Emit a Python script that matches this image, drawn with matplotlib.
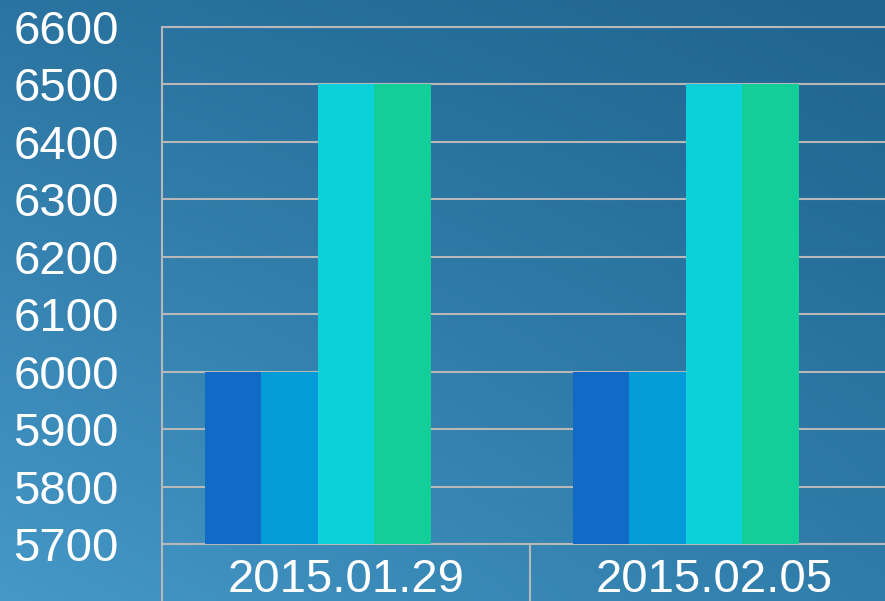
import numpy as np
import matplotlib
matplotlib.use("Agg")
import matplotlib.pyplot as plt
from matplotlib.colors import to_rgb

# data
categories = ["2015.01.29", "2015.02.05"]
series_a = [6000, 6000]
series_b = [6000, 6000]
series_c = [6500, 6500]
series_d = [6500, 6500]
y_ticks = [5700, 5800, 5900, 6000, 6100, 6200, 6300, 6400, 6500, 6600]

colors = ["#116AC5", "#029CD9", "#0CD0DA", "#12CF99"]
plt.rcParams['font.family'] = ['Liberation Sans', 'DejaVu Sans']

W, H = 885, 601
fig = plt.figure(figsize=(W / 100, H / 100), dpi=100)

# background gradient (bilinear between four corners)
tl, tr = np.array(to_rgb("#2B74A1")), np.array(to_rgb("#1F648E"))
bl, br = np.array(to_rgb("#4598C8")), np.array(to_rgb("#2F7CA9"))
u = np.linspace(0, 1, 200)[None, :, None]
v = np.linspace(0, 1, 140)[:, None, None]
img = (1 - v) * ((1 - u) * tl + u * tr) + v * ((1 - u) * bl + u * br)
bg = fig.add_axes([0, 0, 1, 1], zorder=-5)
bg.imshow(img, aspect="auto", extent=[0, 1, 0, 1], interpolation="bilinear")
bg.axis("off")

# plot area: left edge at x=162, one category = 368 px
left, top, bottom = 162, 27, 544
ax = fig.add_axes([left / W, (H - bottom) / H, 736 / W, (bottom - top) / H])
ax.set_facecolor("none")

x = np.arange(len(categories))
w = 0.1535
for i, vals in enumerate([series_a, series_b, series_c, series_d]):
    ax.bar(x + (i - 2) * w, np.array(vals) - y_ticks[0], width=w,
           bottom=y_ticks[0], color=colors[i], zorder=3)

ax.set_xlim(-0.5, 1.5)
ax.set_ylim(y_ticks[0], y_ticks[-1])
ax.set_yticks(y_ticks)
ax.set_yticklabels([str(t) for t in y_ticks])
ax.grid(axis="y", color="#B8B8B8", linewidth=1.5, zorder=1)

ax.set_xticks(x)
ax.set_xticklabels(categories)
ax.set_xticks([-0.5, 0.5, 1.5], minor=True)
ax.tick_params(axis="x", which="major", length=0, pad=10, labelsize=34, labelcolor="white")
ax.tick_params(axis="x", which="minor", length=45, width=1.5, color="#B8B8B8", direction="out")
ax.tick_params(axis="y", length=0, pad=31, labelsize=34, labelcolor="white")

ax.spines["right"].set_visible(False)
for s in ["left", "bottom", "top"]:
    ax.spines[s].set_color("#B8B8B8")
    ax.spines[s].set_linewidth(1.5)

fig.savefig("out.png", dpi=100)
